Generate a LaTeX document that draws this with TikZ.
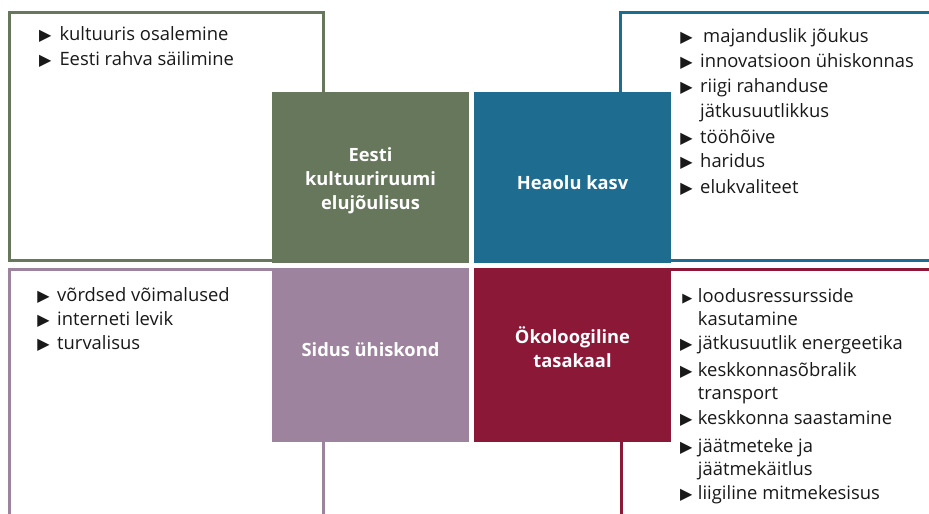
\documentclass[tikz,border=0pt]{standalone}
\usepackage{fontspec}
\setmainfont{Open Sans}
\newfontfamily\symfont{DejaVu Sans}
\definecolor{cgreen}{HTML}{66775C}
\definecolor{cblue}{HTML}{1F6C91}
\definecolor{cpurple}{HTML}{9E839E}
\definecolor{cred}{HTML}{8B1837}
\newcommand\mybullet[1]{\llap{{\symfont\fontsize{16}{16}\selectfont ▶}\hspace{#1}}}
\newcommand\mysmallbullet[1]{\llap{{\symfont\fontsize{13}{13}\selectfont ▶}\hspace{#1}}}
\begin{document}
\begin{tikzpicture}[x=1pt,y=-1pt,
  frame/.style={line width=3pt},
  item/.style={anchor=base west, inner sep=0pt, text=black!90, font=\fontsize{18.4}{22}\selectfont},
  lbl/.style={text=white, align=center, inner sep=0pt, font=\bfseries\fontsize{18.3}{24}\selectfont}]
\useasboundingbox (0,0) rectangle (929,514);
\clip (0,0) rectangle (929,514);
\fill[white] (0,0) rectangle (929,514);
% outlines
\draw[frame, cgreen] (9,12) rectangle (323,260.5);
\draw[frame, cblue] (620.5,12.5) rectangle (960,260.5);
\draw[frame, cpurple] (9,269.5) rectangle (323,540);
\draw[frame, cred] (621,269.5) rectangle (960,540);
% squares
\fill[cgreen] (272,92) rectangle (469,262.5);
\fill[cblue] (474,92) rectangle (671,262.5);
\fill[cpurple] (272,267.5) rectangle (469,441.5);
\fill[cred] (474,267.5) rectangle (671,441.5);
% labels
\node[lbl] (lgreen) at (370.5,181) {Eesti\\kultuuriruumi\\elujõulisus};
\node[lbl] (lblue) at (572.5,183) {Heaolu kasv};
\node[lbl] (lpurple) at (370.5,350) {Sidus ühiskond};
\node[lbl] (lred) at (572.5,347) {Ökoloogiline\\tasakaal};
% top-left items
\node[item] (tl1) at (59.3,40.5) {\mybullet{8pt}kultuuris osalemine};
\node[item] (tl2) at (59.3,65) {\mybullet{8pt}Eesti rahva säilimine};
% top-right items
\node[item] (tr1) at (703,42) {\mybullet{10.5pt}majanduslik jõukus};
\node[item] (tr2) at (700,67) {\mybullet{7.5pt}innovatsioon ühiskonnas};
\node[item] (tr3) at (700,92) {\mybullet{7.5pt}riigi rahanduse};
\node[item] (tr3b) at (700,117.5) {jätkusuutlikkus};
\node[item] (tr4) at (700,143) {\mybullet{7.5pt}tööhõive};
\node[item] (tr5) at (700,167) {\mybullet{7.5pt}haridus};
\node[item] (tr6) at (700,193) {\mybullet{7.5pt}elukvaliteet};
% bottom-left items
\node[item] (bl1) at (57,301.5) {\mybullet{7.5pt}võrdsed võimalused};
\node[item] (bl2) at (57,325.5) {\mybullet{7.5pt}interneti levik};
\node[item] (bl3) at (57,349.5) {\mybullet{7.5pt}turvalisus};
% bottom-right items
\node[item] (br1) at (697.7,302) {\mysmallbullet{5.5pt}loodusressursside};
\node[item] (br1b) at (697.7,325.5) {kasutamine};
\node[item] (br2) at (697.7,349.5) {\mybullet{5.5pt}jätkusuutlik energeetika};
\node[item] (br3) at (697.7,376.5) {\mybullet{5.5pt}keskkonnasõbralik};
\node[item] (br3b) at (697.7,399.8) {transport};
\node[item] (br4) at (697.7,424.5) {\mybullet{5.5pt}keskkonna saastamine};
\node[item] (br5) at (697.7,452) {\mybullet{5.5pt}jäätmeteke ja};
\node[item] (br5b) at (697.7,475.5) {jäätmekäitlus};
\node[item] (br6) at (697.7,499.8) {\mybullet{5.5pt}liigiline mitmekesisus};
\end{tikzpicture}
\end{document}
